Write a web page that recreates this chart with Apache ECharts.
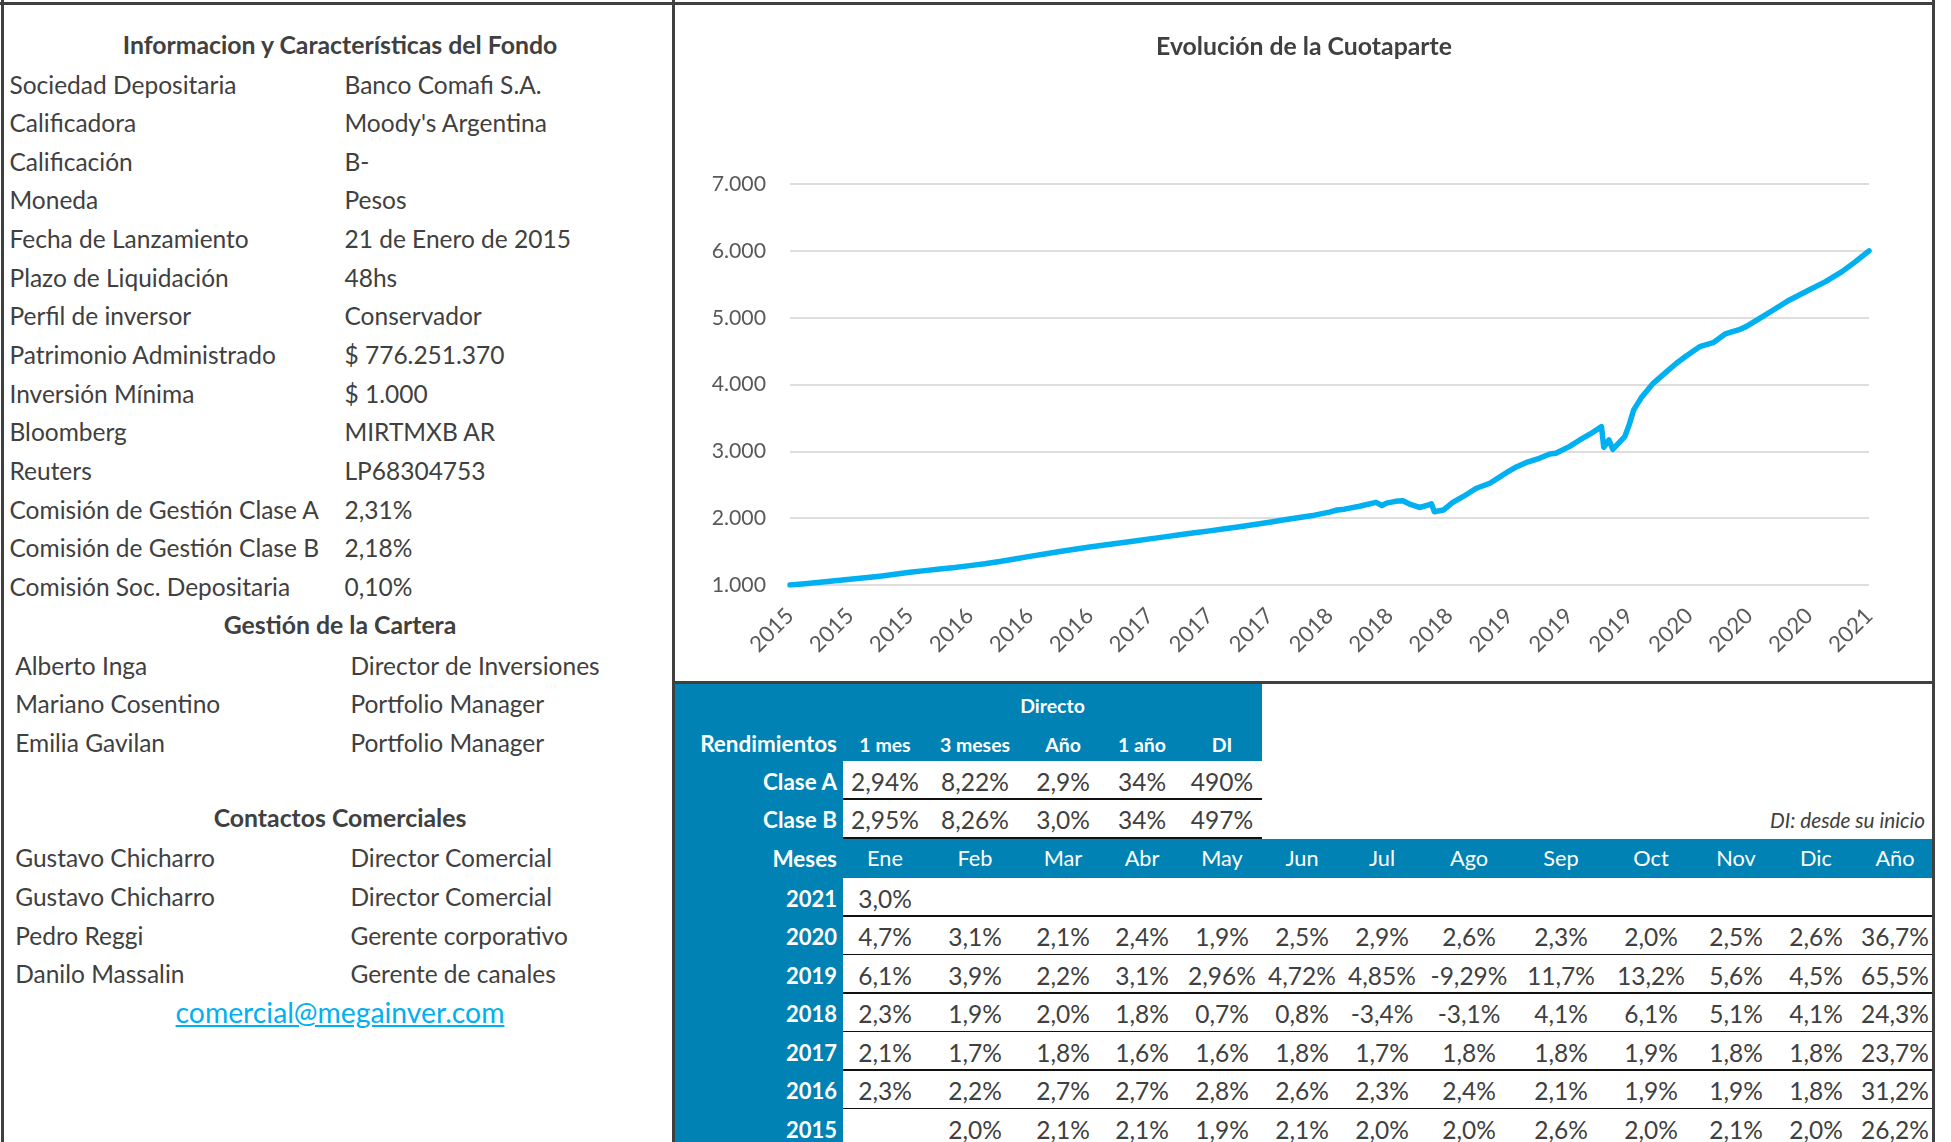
<!DOCTYPE html>
<html>
<head>
<meta charset="utf-8">
<script src="https://cdn.jsdelivr.net/npm/echarts/dist/echarts.min.js"></script>
<style>
html,body{margin:0;padding:0;background:#fff;width:1951px;height:1142px;overflow:hidden;}
#stage{position:absolute;left:0;top:0;width:1951px;height:1142px;}
#chart{position:absolute;left:0;top:0;width:1951px;height:1142px;}
</style>
</head>
<body>
<div id="stage"></div>
<div id="chart"></div>
<script>
// ---------------- DATA ----------------
const infoTitulo = 'Informacion y Características del Fondo';
const infoLabels = ['Sociedad Depositaria','Calificadora','Calificación','Moneda','Fecha de Lanzamiento','Plazo de Liquidación','Perfil de inversor','Patrimonio Administrado','Inversión Mínima','Bloomberg','Reuters','Comisión de Gestión Clase A','Comisión de Gestión Clase B','Comisión Soc. Depositaria'];
const infoValores = ['Banco Comafi S.A.',"Moody's Argentina",'B-','Pesos','21 de Enero de 2015','48hs','Conservador','$ 776.251.370','$ 1.000','MIRTMXB AR','LP68304753','2,31%','2,18%','0,10%'];
const gestionTitulo = 'Gestión de la Cartera';
const gestionNombres = ['Alberto Inga','Mariano Cosentino','Emilia Gavilan'];
const gestionCargos = ['Director de Inversiones','Portfolio Manager','Portfolio Manager'];
const contactosTitulo = 'Contactos Comerciales';
const contactosNombres = ['Gustavo Chicharro','Gustavo Chicharro','Pedro Reggi','Danilo Massalin'];
const contactosCargos = ['Director Comercial','Director Comercial','Gerente corporativo','Gerente de canales'];
const contactoEmail = 'comercial@megainver.com';

const chartTitulo = 'Evolución de la Cuotaparte';
const xTickLabels = ['2015','2015','2015','2016','2016','2016','2017','2017','2017','2018','2018','2018','2019','2019','2019','2020','2020','2020','2021'];
// months elapsed since launch (x position) and share value
const mesesDesdeInicio = [0,1,2,3,4,5,6,7,8,9,10,11,12,13,14,15,16,17,18,19,20,21,22,23,24,25,26,27,28,29,30,31,32,33,34,35,36,36.5,37,38,39.1,39.5,39.8,40.4,40.9,41.4,42.0,42.5,42.8,43.0,43.6,44.2,44.9,45.8,46.7,47.4,47.8,48.5,49.1,50.0,50.7,51.1,52.0,52.7,53.4,54.15,54.3,54.65,54.9,55.7,56.0,56.3,56.8,57.6,58.5,59.15,59.8,60.7,61.6,62.4,63.4,63.8,64.9,65.8,66.7,68.0,69.1,70.2,71.1,72];
const cuotaparte = [1000,1018,1040,1062,1085,1108,1132,1160,1190,1215,1240,1262,1290,1318,1352,1390,1428,1465,1500,1535,1568,1598,1628,1657,1690,1720,1752,1782,1810,1842,1873,1905,1938,1975,2010,2045,2090,2122,2135,2178,2237,2190,2225,2252,2261,2205,2160,2190,2215,2097,2122,2232,2321,2447,2522,2621,2680,2770,2830,2896,2960,2970,3070,3170,3260,3369,3060,3170,3030,3219,3400,3620,3800,4018,4192,4318,4427,4566,4626,4756,4826,4866,5015,5141,5265,5415,5539,5689,5838,6000];
const yMin = 1000, yMax = 7000, yStep = 1000;

const rendTitulo = 'Rendimientos';
const rendGrupo = 'Directo';
const rendHeaders = ['1 mes','3 meses','Año','1 año','DI'];
const claseLabels = ['Clase A','Clase B'];
const claseA = ['2,94%','8,22%','2,9%','34%','490%'];
const claseB = ['2,95%','8,26%','3,0%','34%','497%'];
const notaDI = 'DI: desde su inicio';
const mesesTitulo = 'Meses';
const meses = ['Ene','Feb','Mar','Abr','May','Jun','Jul','Ago','Sep','Oct','Nov','Dic','Año'];
const anios = ['2021','2020','2019','2018','2017','2016','2015'];
const rend2021 = ['3,0%','','','','','','','','','','','',''];
const rend2020 = ['4,7%','3,1%','2,1%','2,4%','1,9%','2,5%','2,9%','2,6%','2,3%','2,0%','2,5%','2,6%','36,7%'];
const rend2019 = ['6,1%','3,9%','2,2%','3,1%','2,96%','4,72%','4,85%','-9,29%','11,7%','13,2%','5,6%','4,5%','65,5%'];
const rend2018 = ['2,3%','1,9%','2,0%','1,8%','0,7%','0,8%','-3,4%','-3,1%','4,1%','6,1%','5,1%','4,1%','24,3%'];
const rend2017 = ['2,1%','1,7%','1,8%','1,6%','1,6%','1,8%','1,7%','1,8%','1,8%','1,9%','1,8%','1,8%','23,7%'];
const rend2016 = ['2,3%','2,2%','2,7%','2,7%','2,8%','2,6%','2,3%','2,4%','2,1%','1,9%','1,9%','1,8%','31,2%'];
const rend2015 = ['','2,0%','2,1%','2,1%','1,9%','2,1%','2,0%','2,0%','2,6%','2,0%','2,1%','2,0%','26,2%'];
const rendAnios = [rend2021,rend2020,rend2019,rend2018,rend2017,rend2016,rend2015];

// ---------------- STYLE / LAYOUT ----------------
const FONT = 'Lato';
const TXT = '#404040';
const BLUE = '#0082B4';
const BORDER = '#404040';
const LINE_BLUE = '#00B0F0';

const cv = document.createElement('canvas').getContext('2d');
function measure(s, size, weight, style) {
  cv.font = (style || 'normal') + ' ' + (weight || 400) + ' ' + size + 'px ' + FONT;
  return cv.measureText(s).width;
}
const bodyFs = 100 * 227 / measure('Sociedad Depositaria', 100);
const headFs = 100 * 436 / measure(infoTitulo, 100, 700);
const emailFs = 100 * 329 / measure(contactoEmail, 100);
const notaFs = 100 * 155 / measure(notaDI, 100, 400, 'italic');
const k = bodyFs / 26.5;
const kb = headFs / 26.5;

const stage = document.getElementById('stage');
function rect(x, y, w, h, c) {
  const d = document.createElement('div');
  Object.assign(d.style, {position:'absolute', left:x+'px', top:y+'px', width:w+'px', height:h+'px', background:c});
  stage.appendChild(d);
}
function txt(s, x, cy, fs, o) {
  o = o || {};
  const d = document.createElement('div');
  d.textContent = s;
  const tx = o.align === 'center' ? '-50%' : (o.align === 'right' ? '-100%' : '0');
  Object.assign(d.style, {
    position:'absolute', left:x+'px', top:(cy - 0.53*fs)+'px', fontSize:fs+'px', lineHeight:fs+'px',
    whiteSpace:'nowrap', fontFamily:FONT, fontWeight:o.bold ? '700' : '400',
    fontStyle:o.italic ? 'italic' : 'normal', color:o.color || TXT,
    textDecoration:o.underline ? 'underline' : 'none', transform:'translateX(' + tx + ')'
  });
  stage.appendChild(d);
}

// blue table backgrounds
rect(675, 684, 168, 458, BLUE);
rect(843, 684, 419, 77, BLUE);
rect(843, 838.5, 1090, 39.5, BLUE);

// borders
rect(0, 2, 1935, 3, BORDER);
rect(1, 0, 3, 1142, BORDER);
rect(672, 0, 3, 1142, BORDER);
rect(1932, 0, 3, 1142, BORDER);
rect(672, 681, 1263, 3, BORDER);

// left panel
const CX = 340;
txt(infoTitulo, CX, 46.5, headFs, {align:'center', bold:true});
infoLabels.forEach((s, i) => {
  const cy = 85.5 + i * 38.65;
  txt(s, 9.5, cy, bodyFs);
  txt(infoValores[i], 344.5, cy, bodyFs);
});
txt(gestionTitulo, CX, 626.5, headFs, {align:'center', bold:true});
gestionNombres.forEach((s, i) => {
  const cy = 666.5 + i * 38.6;
  txt(s, 15.2, cy, bodyFs);
  txt(gestionCargos[i], 350.4, cy, bodyFs);
});
txt(contactosTitulo, CX, 819.5, headFs, {align:'center', bold:true});
contactosNombres.forEach((s, i) => {
  const cy = 859.3 + i * 38.6;
  txt(s, 15.2, cy, bodyFs);
  txt(contactosCargos[i], 350.4, cy, bodyFs);
});
txt(contactoEmail, CX, 1013, emailFs, {align:'center', color:LINE_BLUE, underline:true});

// returns table
const colX = [885, 975, 1063, 1142, 1222, 1302, 1382, 1469, 1561, 1651, 1736, 1816, 1895];
const LBL_R = 837;
txt(rendGrupo, 1052.5, 706, 20.8*kb, {align:'center', bold:true, color:'#fff'});
txt(rendTitulo, LBL_R, 744.5, 24*kb, {align:'right', bold:true, color:'#fff'});
rendHeaders.forEach((s, i) => txt(s, colX[i], 745, 20.8*kb, {align:'center', bold:true, color:'#fff'}));
[claseA, claseB].forEach((row, r) => {
  const cy = 783 + r * 37.8;
  txt(claseLabels[r], LBL_R, cy, 24*kb, {align:'right', bold:true, color:'#fff'});
  row.forEach((s, i) => txt(s, colX[i], cy, bodyFs, {align:'center'}));
});
rect(843, 798, 419, 1.6, '#111');
rect(843, 837, 419, 1.6, '#111');
txt(notaDI, 1925, 821, notaFs, {align:'right', italic:true});
txt(mesesTitulo, LBL_R, 859.5, 24*kb, {align:'right', bold:true, color:'#fff'});
meses.forEach((s, i) => txt(s, colX[i], 859.5, 23.5*k, {align:'center', color:'#fff'}));
anios.forEach((a, r) => {
  const cy = 899.5 + r * 38.5;
  txt(a, LBL_R, cy, 23.5*kb, {align:'right', bold:true, color:'#fff'});
  rendAnios[r].forEach((s, i) => { if (s) txt(s, colX[i], cy, bodyFs, {align:'center'}); });
  if (r < anios.length - 1) rect(843, cy + 15.8, 1089, 1.6, '#111');
});

// ---------------- CHART ----------------
const chart = echarts.init(document.getElementById('chart'), null, {renderer:'canvas'});
const serie = mesesDesdeInicio.map((m, i) => [m, cuotaparte[i]]);
const fmtMiles = v => String(v).replace(/\B(?=(\d{3})+(?!\d))/g, '.');
chart.setOption({
  animation: false,
  backgroundColor: 'transparent',
  textStyle: {fontFamily: FONT},
  graphic: [{
    type: 'text', x: 1304, y: 46.5,
    style: {text: chartTitulo, textAlign: 'center', textVerticalAlign: 'middle',
      fontFamily: FONT, fontWeight: 'bold', fontSize: headFs, fill: TXT}
  }],
  grid: {left: 790, top: 184, width: 1079, height: 401, containLabel: false},
  xAxis: {
    type: 'value', min: 0, max: 72, interval: 4,
    axisLine: {show: false}, axisTick: {show: false}, splitLine: {show: false},
    axisLabel: {rotate: 45, margin: 27, color: '#595959', fontSize: 24*k, fontFamily: FONT,
      formatter: v => xTickLabels[Math.round(v / 4)] || ''}
  },
  yAxis: {
    type: 'value', min: yMin, max: yMax, interval: yStep,
    axisLine: {show: false}, axisTick: {show: false},
    splitLine: {lineStyle: {color: '#DEDEDE', width: 2}},
    axisLabel: {margin: 24, color: '#595959', fontSize: 23*k, fontFamily: FONT, formatter: fmtMiles}
  },
  series: [{
    type: 'line', data: serie, showSymbol: false, symbol: 'none',
    lineStyle: {color: LINE_BLUE, width: 5.5, cap: 'round', join: 'round'}
  }]
});
</script>
</body>
</html>
